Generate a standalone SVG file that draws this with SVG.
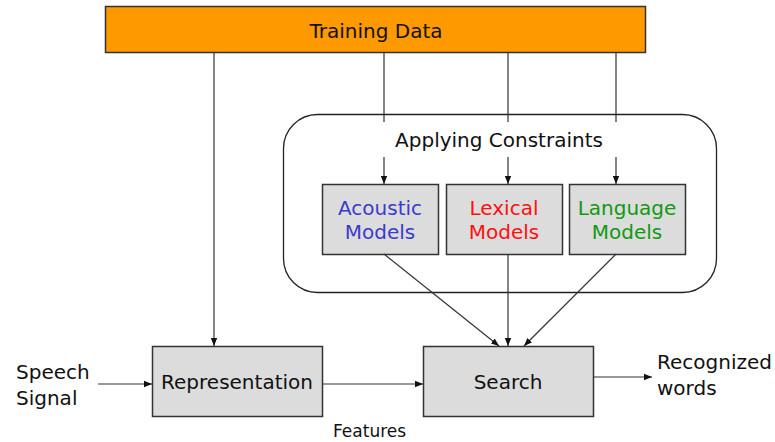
<svg xmlns="http://www.w3.org/2000/svg" width="775" height="442" viewBox="0 0 775 442">
<style>
text{font-family:"DejaVu Sans",Verdana,sans-serif;font-size:20px;fill:#111}
.box{fill:#dcdcdc;stroke:#333;stroke-width:1.5}
.c{fill:none;stroke:#333;stroke-width:1.2}
.m{text-anchor:middle}
</style>
<defs>
<marker id="ah" viewBox="0 0 10 10" refX="10" refY="5" markerWidth="8" markerHeight="8" markerUnits="userSpaceOnUse" orient="auto">
<path d="M0,1 L10,5 L0,9 Z" fill="#111"/>
</marker>
</defs>
<rect width="775" height="442" fill="#fff"/>
<g id="training">
<rect x="105.5" y="6.5" width="540" height="46" fill="#ff9900" stroke="#333" stroke-width="1.5"/>
<text class="m" x="376" y="38">Training Data</text>
</g>
<g id="constraints">
<rect x="283.5" y="114.5" width="433" height="178" rx="34" fill="none" stroke="#222" stroke-width="1.3"/>
<text class="m" x="499" y="147">Applying Constraints</text>
</g>
<g id="acoustic">
<rect class="box" x="322.5" y="184.5" width="116" height="70"/>
<text class="m" x="380" y="215" style="fill:#3b3bcc">Acoustic</text>
<text class="m" x="380" y="239" style="fill:#3b3bcc">Models</text>
</g>
<g id="lexical">
<rect class="box" x="446.5" y="184.5" width="116" height="70"/>
<text class="m" x="504" y="215" style="fill:#ff1010">Lexical</text>
<text class="m" x="504" y="239" style="fill:#ff1010">Models</text>
</g>
<g id="language">
<rect class="box" x="569.5" y="184.5" width="116" height="70"/>
<text class="m" x="627" y="215" style="fill:#119911">Language</text>
<text class="m" x="627" y="239" style="fill:#119911">Models</text>
</g>
<g id="representation">
<rect class="box" x="152.5" y="346.5" width="170" height="70"/>
<text class="m" x="237" y="389">Representation</text>
</g>
<g id="search">
<rect class="box" x="423.5" y="346.5" width="170" height="70"/>
<text class="m" x="508" y="389">Search</text>
</g>
<g id="labels">
<text x="16" y="379">Speech</text>
<text x="16" y="405">Signal</text>
<text x="657" y="369">Recognized</text>
<text x="657" y="395">words</text>
<text x="333" y="437" style="font-size:17px">Features</text>
</g>
<g id="connectors">
<path class="c" d="M214,52 V346" marker-end="url(#ah)"/>
<path class="c" d="M384,52 V122 M384,157 V184" marker-end="url(#ah)"/>
<path class="c" d="M508,52 V122 M508,157 V184" marker-end="url(#ah)"/>
<path class="c" d="M616,52 V122 M616,157 V184" marker-end="url(#ah)"/>
<path class="c" d="M384,254 L499,346" marker-end="url(#ah)"/>
<path class="c" d="M508,254 L508,346" marker-end="url(#ah)"/>
<path class="c" d="M616,254 L524,346" marker-end="url(#ah)"/>
<path class="c" d="M98,384 H152" marker-end="url(#ah)"/>
<path class="c" d="M322,384 H423" marker-end="url(#ah)"/>
<path class="c" d="M593,377 H652" marker-end="url(#ah)"/>
</g>
</svg>
